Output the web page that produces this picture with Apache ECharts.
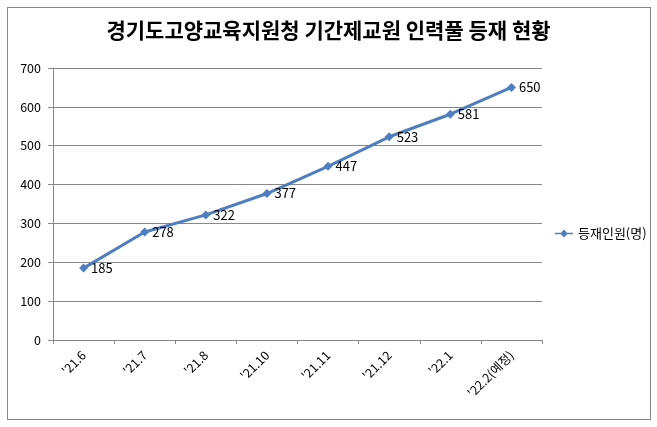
<!DOCTYPE html>
<html><head><meta charset="utf-8">
<script src="https://cdn.jsdelivr.net/npm/echarts@6/dist/echarts.min.js"></script>
<style>html,body{margin:0;padding:0;background:#fff}#c{width:657px;height:427px}
#frame{position:absolute;left:7px;top:7px;width:644px;height:413px;border:1px solid #888;box-sizing:border-box;pointer-events:none}</style>
</head><body><div id="c"></div><div id="frame"></div>
<script>
const categories = ["'21.6", "'21.7", "'21.8", "'21.10", "'21.11", "'21.12", "'22.1", "'22.2(예정)"];
const values = [185, 278, 322, 377, 447, 523, 581, 650];
const seriesName = '등재인원(명)';
const titleText = '경기도고양교육지원청 기간제교원 인력풀 등재 현황';
const font = "'Noto Sans CJK KR', 'Noto Sans', sans-serif";
const chart = echarts.init(document.getElementById('c'));
chart.setOption({
  animation: false,
  title: {text: titleText, left: 'center', top: 15,
    textStyle: {fontFamily: font, fontSize: 21, fontWeight: 'bold', color: '#000'}},
  legend: {data: [{name: seriesName, icon: 'path://M0,4.2 L6,4.2 L9,1 L12,4.2 L18,4.2 L18,5.8 L12,5.8 L9,9 L6,5.8 L0,5.8 Z'}],
    orient: 'vertical', left: 550, top: 222,
    itemWidth: 18, itemHeight: 8, itemGap: 4,
    textStyle: {fontFamily: font, fontSize: 13, color: '#000'}},
  grid: {left: 53, right: 115, top: 68, bottom: 87},
  xAxis: {type: 'category', data: categories, boundaryGap: true,
    axisLine: {lineStyle: {color: '#888'}},
    axisTick: {show: true, length: 4, lineStyle: {color: '#888'}},
    axisLabel: {rotate: 45, margin: 13, fontFamily: font, fontSize: 12.5, color: '#000', interval: 0}},
  yAxis: {type: 'value', min: 0, max: 700, interval: 100,
    axisLine: {show: true, lineStyle: {color: '#888'}},
    axisTick: {show: true, length: 5, lineStyle: {color: '#888'}},
    splitLine: {lineStyle: {color: '#888'}},
    axisLabel: {margin: 12, fontFamily: font, fontSize: 12.5, color: '#000'}},
  series: [{name: seriesName, type: 'line', data: values,
    symbol: 'diamond', symbolSize: 9,
    lineStyle: {color: '#4F7EC0', width: 3},
    itemStyle: {color: '#4F7EC0'},
    label: {show: true, position: 'right', distance: 3, fontFamily: font, fontSize: 13, color: '#000'}}]
});
</script></body></html>
